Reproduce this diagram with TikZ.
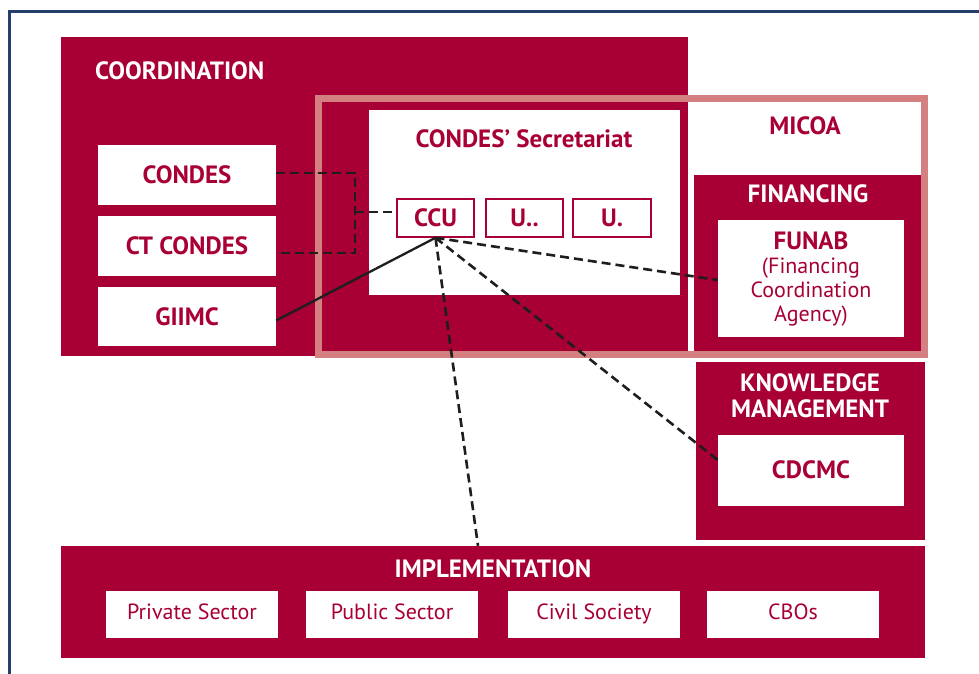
\documentclass[tikz,border=0pt]{standalone}
\usepackage{fontspec}
\setmainfont{PT Sans}
\definecolor{crim}{RGB}{168,0,52}
\definecolor{pinkf}{RGB}{212,128,128}
\definecolor{frameblue}{RGB}{38,62,108}
\definecolor{lineg}{RGB}{30,30,30}
\begin{document}
\begin{tikzpicture}[x=1pt,y=-1pt,
  redbox/.style={fill=crim,draw=none,inner sep=0pt},
  wbox/.style={fill=white,draw=none,inner sep=0pt,text=crim,font=\fontsize{25}{28}\selectfont\bfseries},
  ubox/.style={fill=white,draw=crim,line width=1.5pt,inner sep=0pt,text=crim,font=\fontsize{25}{28}\selectfont\bfseries},
  ibox/.style={fill=white,draw=none,inner sep=0pt,text=crim,font=\fontsize{22}{26}\selectfont,text height=16pt,text depth=5pt},
  wtitle/.style={text=white,font=\fontsize{25}{28}\selectfont\bfseries,inner sep=0pt},
  rtitle/.style={text=crim,font=\fontsize{25}{28}\selectfont\bfseries,inner sep=0pt},
  dconn/.style={draw=lineg,line width=2.6pt,dash pattern=on 9pt off 5pt},
  sconn/.style={draw=lineg,line width=2.3pt}]
\useasboundingbox (0,0) rectangle (979,673);
% outer frame
\draw[frameblue,line width=3pt] (9.5,11.5) rectangle (1000,700);
% coordination
\node[redbox,minimum width=627pt,minimum height=319pt] (coord) at (374.5,196.5) {};
\node[wtitle,anchor=west] (coordt) at (95,71) {COORDINATION};
% MICOA frame
\node[draw=pinkf,line width=7pt,fill=none,minimum width=606pt,minimum height=255.5pt,inner sep=0pt] (micoa) at (621.5,226.25) {};
\node[rtitle] (micoat) at (805,126) {MICOA};
% financing
\node[redbox,minimum width=227pt,minimum height=176pt] (fin) at (807.5,263) {};
\node[wtitle] (fint) at (808,194) {FINANCING};
\node[fill=white,inner sep=0pt,minimum width=186pt,minimum height=117pt] (funab) at (811,278) {};
\node[text=crim,align=center,inner sep=0pt,font=\fontsize{22}{24}\selectfont] (funabt) at (811,279) {{\fontsize{25}{24}\selectfont\bfseries FUNAB}\\(Financing\\Coordination\\Agency)};
% secretariat
\node[fill=white,inner sep=0pt,minimum width=311pt,minimum height=185pt] (sec) at (524.5,202.5) {};
\node[rtitle] (sect) at (524,139) {CONDES’ Secretariat};
\node[ubox,minimum width=77pt,minimum height=38pt] (ccu) at (435.5,218) {CCU};
\node[ubox,minimum width=77pt,minimum height=38pt] (u2) at (524.5,218) {U..};
\node[ubox,minimum width=78pt,minimum height=38pt] (u1) at (612,218) {U.};
% coordination members
\node[wbox,minimum width=178pt,minimum height=60pt] (condes) at (187,175) {CONDES};
\node[wbox,minimum width=178pt,minimum height=60pt] (ctcondes) at (187,246) {CT CONDES};
\node[wbox,minimum width=178pt,minimum height=59pt] (giimc) at (187,316.5) {GIIMC};
% knowledge
\node[redbox,minimum width=229pt,minimum height=178pt] (know) at (810.5,451) {};
\node[wtitle,align=center,font=\fontsize{25}{26}\selectfont\bfseries] (knowt) at (810,396) {KNOWLEDGE\\MANAGEMENT};
\node[wbox,minimum width=186pt,minimum height=71pt] (cdcmc) at (811,470) {CDCMC};
% implementation
\node[redbox,minimum width=864pt,minimum height=112pt] (impl) at (493,602) {};
\node[wtitle] (implt) at (493,569) {IMPLEMENTATION};
\node[ibox,minimum width=172pt,minimum height=47pt] (priv) at (192,614) {Private Sector};
\node[ibox,minimum width=172pt,minimum height=47pt] (pub) at (392,614) {Public Sector};
\node[ibox,minimum width=172pt,minimum height=47pt] (civ) at (594,614) {Civil Society};
\node[ibox,minimum width=172pt,minimum height=47pt] (cbo) at (793,614) {CBOs};
% connectors
\coordinate (br) at (355,212);
\draw[dconn] ([yshift=2pt]condes.east) -| (br) |- ([yshift=-7pt]ctcondes.east);
\draw[dconn] (br) -- ([yshift=6pt]ccu.west);
\draw[sconn] ([yshift=-4pt]giimc.east) -- (ccu.south);
\draw[dconn] (ccu.south) -- ([yshift=-2pt]funab.west);
\draw[dconn] (ccu.south) -- ([yshift=10pt]cdcmc.west);
\draw[dconn] (ccu.south) -- ([xshift=-15pt]impl.north);
\end{tikzpicture}
\end{document}
